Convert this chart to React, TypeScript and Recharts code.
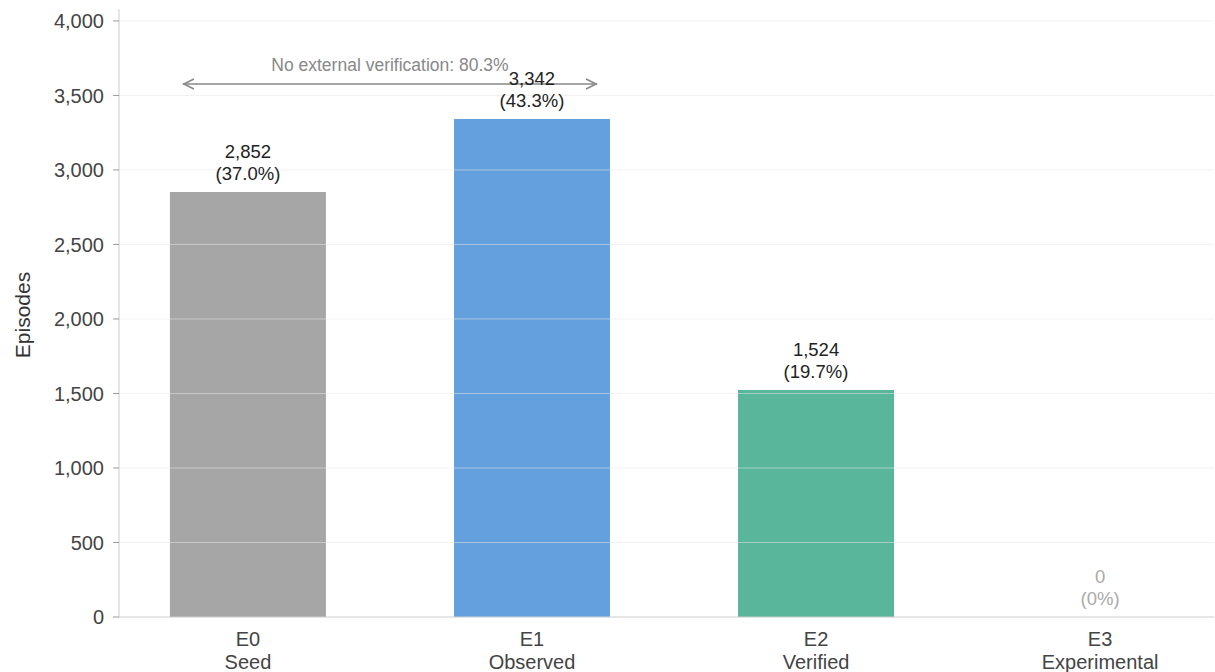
import React from 'react';
import {
  BarChart,
  Bar,
  Cell,
  XAxis,
  YAxis,
  ReferenceLine,
  ReferenceDot,
  LabelList,
  Label,
} from 'recharts';

const tiers = ['E0', 'E1', 'E2', 'E3'];
const tierNames = ['Seed', 'Observed', 'Verified', 'Experimental'];
const episodes = [2852, 3342, 1524, 0];
const shares = ['37.0%', '43.3%', '19.7%', '0%'];
const barColors = ['#a6a6a6', '#63a0dd', '#59b69b', '#cccccc'];
const yTicks = [0, 500, 1000, 1500, 2000, 2500, 3000, 3500, 4000];

const noVerifyNote = 'No external verification: 80.3%';

const FONT = '"Liberation Sans", Arial, Helvetica, sans-serif';

const data = tiers.map((t, i) => ({
  pos: i,
  tier: t,
  name: tierNames[i],
  episodes: episodes[i],
  share: shares[i],
}));

const fmt = (v: number) => v.toLocaleString('en-US');

const XTick = ({ x, y, payload }: any) => {
  const i = payload.value;
  return (
    <g transform={`translate(${x},${y})`}>
      <text x={0} y={0} dy={21} textAnchor="middle" fill="#444" fontSize={20} fontFamily={FONT}>
        {tiers[i]}
      </text>
      <text x={0} y={0} dy={44} textAnchor="middle" fill="#444" fontSize={20} fontFamily={FONT}>
        {tierNames[i]}
      </text>
    </g>
  );
};

const twoLines = (cx: number, top: number, index: number) => {
  const v = episodes[index];
  const color = v === 0 ? '#aaaaaa' : '#222222';
  return (
    <g>
      <text x={cx} y={top - 34} textAnchor="middle" fill={color} fontSize={18.5} fontFamily={FONT}>
        {fmt(v)}
      </text>
      <text x={cx} y={top - 12} textAnchor="middle" fill={color} fontSize={18.5} fontFamily={FONT}>
        ({shares[index]})
      </text>
    </g>
  );
};

const ValueLabel = ({ x, y, width, index }: any) => twoLines(x + width / 2, y, index);

// zero-height bars get no LabelList entry, so the E3 label is drawn from a dot
const ZeroLabel = ({ cx, cy }: any) => twoLines(cx, cy, 3);

// double-headed arrow spanning E0..E1 with the note above it
const SpanArrow = ({ x1, y1, x2, y2 }: any) => {
  const c = '#888888';
  return (
    <g>
      <line x1={x1} y1={y1} x2={x2} y2={y2} stroke={c} strokeWidth={1.6} />
      <polyline points={`${x1 + 11},${y1 - 5} ${x1 + 1},${y1} ${x1 + 11},${y1 + 5}`} fill="none" stroke={c} strokeWidth={1.6} />
      <polyline points={`${x2 - 11},${y2 - 5} ${x2 - 1},${y2} ${x2 - 11},${y2 + 5}`} fill="none" stroke={c} strokeWidth={1.6} />
      <text x={(x1 + x2) / 2} y={y1 - 13} textAnchor="middle" fill="#888" fontSize={17.5} fontFamily={FONT}>
        {noVerifyNote}
      </text>
    </g>
  );
};

export default function App() {
  return (
    <div style={{ position: 'absolute', left: 0, top: 0, width: 1215, height: 672, background: '#fff' }}>
      <BarChart
        width={1215}
        height={672}
        data={data}
        margin={{ top: 9, right: 1, bottom: 0, left: 0 }}
        style={{ fontFamily: FONT }}
      >
        <XAxis
          dataKey="pos"
          type="number"
          height={55}
          domain={[-0.454, 3.401]}
          allowDataOverflow
          ticks={[0, 1, 2, 3]}
          tick={<XTick />}
          tickLine={false}
          axisLine={{ stroke: '#cccccc' }}
          interval={0}
        />
        <YAxis
          width={119}
          domain={[0, 4080]}
          allowDataOverflow
          ticks={yTicks}
          interval={0}
          tickFormatter={fmt}
          tick={{ fill: '#444', fontSize: 20, fontFamily: FONT }}
          tickSize={6}
          tickMargin={9}
          tickLine={{ stroke: '#999' }}
          axisLine={{ stroke: '#cccccc' }}
        >
          <Label
            content={({ viewBox }: any) => (
              <text
                transform={`translate(22, ${viewBox.y + viewBox.height / 2 + 2}) rotate(-90)`}
                textAnchor="middle"
                dominantBaseline="central"
                fill="#333"
                fontSize={21}
                fontFamily={FONT}
              >
                Episodes
              </text>
            )}
          />
        </YAxis>
        <Bar dataKey="episodes" barSize={156} isAnimationActive={false}>
          {data.map((d, i) => (
            <Cell key={d.tier} fill={barColors[i]} />
          ))}
          <LabelList dataKey="episodes" content={<ValueLabel />} />
        </Bar>
        {yTicks.slice(1).map((t) => (
          <ReferenceLine key={t} y={t} stroke="#e6e6e6" strokeOpacity={0.55} strokeWidth={1} />
        ))}
        <ReferenceDot x={3} y={episodes[3]} r={0} shape={<ZeroLabel />} />
        <ReferenceLine
          segment={[
            { x: -0.229, y: 3577 },
            { x: 1.229, y: 3577 },
          ]}
          shape={<SpanArrow />}
        />
      </BarChart>
    </div>
  );
}
